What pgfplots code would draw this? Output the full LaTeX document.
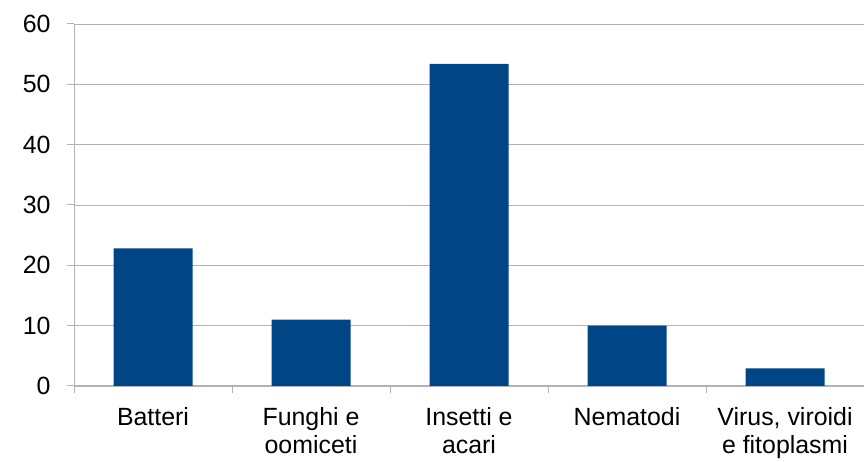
\documentclass[border=0pt]{standalone}
\usepackage{pgfplots}
\pgfplotsset{compat=1.18}
\usepackage{fontspec}
\setmainfont{Liberation Sans}
\definecolor{barblue}{HTML}{004586}
\definecolor{gridgray}{HTML}{B3B3B3}
\begin{document}
\begin{tikzpicture}[x=1bp,y=1bp]
\useasboundingbox (0,0) rectangle (864,462);
\begin{axis}[
  at={(74bp,76bp)}, anchor=south west,
  scale only axis, width=790bp, height=362bp,
  xmin=-0.5, xmax=4.5, ymin=0, ymax=60,
  ytick={0,10,...,60},
  xtick={0,1,2,3,4},
  xticklabels={Batteri,{Funghi e\\oomiceti},{Insetti e\\acari},Nematodi,{Virus, viroidi\\e fitoplasmi}},
  minor xtick={-0.5,0.5,1.5,2.5,3.5,4.5},
  axis x line*=bottom, axis y line*=left,
  axis line style={draw=gridgray, line width=1bp},
  every outer x axis line/.append style={-},
  every outer y axis line/.append style={-},
  separate axis lines,
  ymajorgrids, grid style={draw=gridgray, line width=0.8bp},
  tick align=outside,
  major tick length=7bp, minor tick length=7bp,
  xtick style={draw=none},
  minor x tick style={draw=gridgray, line width=1bp},
  ytick style={draw=gridgray, line width=1bp},
  tick label style={font=\fontsize{25}{28.5}\selectfont, text=black},
  xticklabel style={align=center, yshift=-11bp},
  yticklabel style={xshift=-13bp},
  /pgf/number format/assume math mode=true,
  clip=false,
]
\addplot[ybar, bar width=0.5, fill=barblue, draw=none] coordinates {
  (0,22.8) (1,11.0) (2,53.4) (3,10.0) (4,2.9)
};
\end{axis}
\end{tikzpicture}
\end{document}
